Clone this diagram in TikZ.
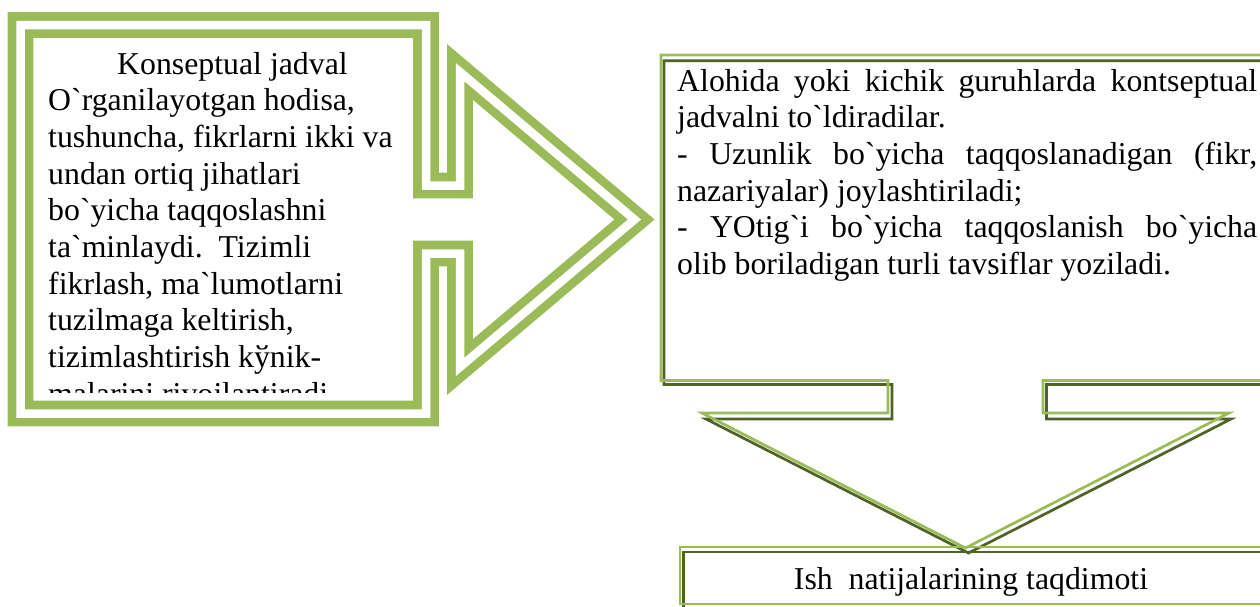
\documentclass[tikz,border=0pt]{standalone}
\usepackage{fontspec}
\setmainfont{Liberation Serif}[Ligatures=TeXOff]
\definecolor{lgreen}{RGB}{155,187,89}
\definecolor{dgreen}{RGB}{79,98,40}
\tikzset{
  dblline/.style={draw=lgreen, line width=8.7pt, double=white, double distance=8.5pt, line join=miter},
  litline/.style={draw=lgreen, line width=2.7pt, line join=miter},
  darkline/.style={draw=dgreen, line width=2.7pt, line join=miter},
  txt/.style={inner sep=0pt, anchor=base west, font=\fontsize{31.8}{36.7}\selectfont},
  ctxt/.style={inner sep=0pt, anchor=base, font=\fontsize{31.8}{36.7}\selectfont}
}
\begin{document}
\begin{tikzpicture}[x=1pt,y=-1pt]
\clip (0,0) rectangle (1260,606);
\fill[white] (0,0) rectangle (1260,606);

% left callout (right arrow callout, double line)
\draw[dblline] (20.5,25) -- (426,25) -- (426,185.5) -- (460,185.5) -- (460,72)
  -- (634.5,219.5) -- (460,367) -- (460,253.5) -- (426,253.5) -- (426,413.5)
  -- (20.5,413.5) -- cycle;

\begin{scope}
\clip (36,40) rectangle (410,392.5);
\node[txt] (l1) at (117,74) {Konseptual jadval};
\node[txt] (l2) at (48,110.7) {O`rganilayotgan hodisa,};
\node[txt] (l3) at (48,147.4) {tushuncha, fikrlarni ikki va};
\node[txt] (l4) at (48,184.1) {undan ortiq jihatlari};
\node[txt] (l5) at (48,220.8) {bo`yicha taqqoslashni};
\node[txt] (l6) at (48,257.5) {ta`minlaydi.\ \ Tizimli};
\node[txt] (l7) at (48,294.2) {fikrlash, ma`lumotlarni};
\node[txt] (l8) at (48,330.9) {tuzilmaga keltirish,};
\node[txt] (l9) at (48,367.6) {tizimlashtirish kўnik-};
\node[txt] (l10) at (48,404.3) {malarini rivojlantiradi};
\end{scope}

% right box (down arrow callout) - shadow line then light line
\draw[darkline] (1275,60.7) -- (664,60.7) -- (664,384.5) -- (892,384.5) -- (892,419)
  -- (706,419) -- (968.5,553) -- (1231,419) -- (1046.5,419) -- (1046.5,384.5) -- (1275,384.5);
\draw[litline] (1275,55) -- (661,55) -- (661,380.5) -- (888,380.5) -- (888,413)
  -- (702,413) -- (965.5,548) -- (1229,413) -- (1043,413) -- (1043,380.5) -- (1275,380.5);

\node[txt] (r1) at (677,91) {\makebox[580pt][s]{Alohida yoki kichik guruhlarda kontseptual}};
\node[txt] (r2) at (677,127.7) {jadvalni to`ldiradilar.};
\node[txt] (r3) at (677,164.4) {\makebox[580pt][s]{- Uzunlik bo`yicha taqqoslanadigan (fikr,}};
\node[txt] (r4) at (677,201.1) {nazariyalar) joylashtiriladi;};
\node[txt] (r5) at (677,237.8) {\makebox[580pt][s]{- YOtig`i bo`yicha taqqoslanish bo`yicha}};
\node[txt] (r6) at (677,274.5) {olib boriladigan turli tavsiflar yoziladi.};

% bottom box
\draw[darkline] (1275,552) -- (683.5,552) -- (683.5,620);
\draw[litline] (1275,547) -- (680,547) -- (680,604) -- (1275,604);
\node[ctxt] (b1) at (971,589) {Ish\ \ natijalarining taqdimoti};
\end{tikzpicture}
\end{document}
